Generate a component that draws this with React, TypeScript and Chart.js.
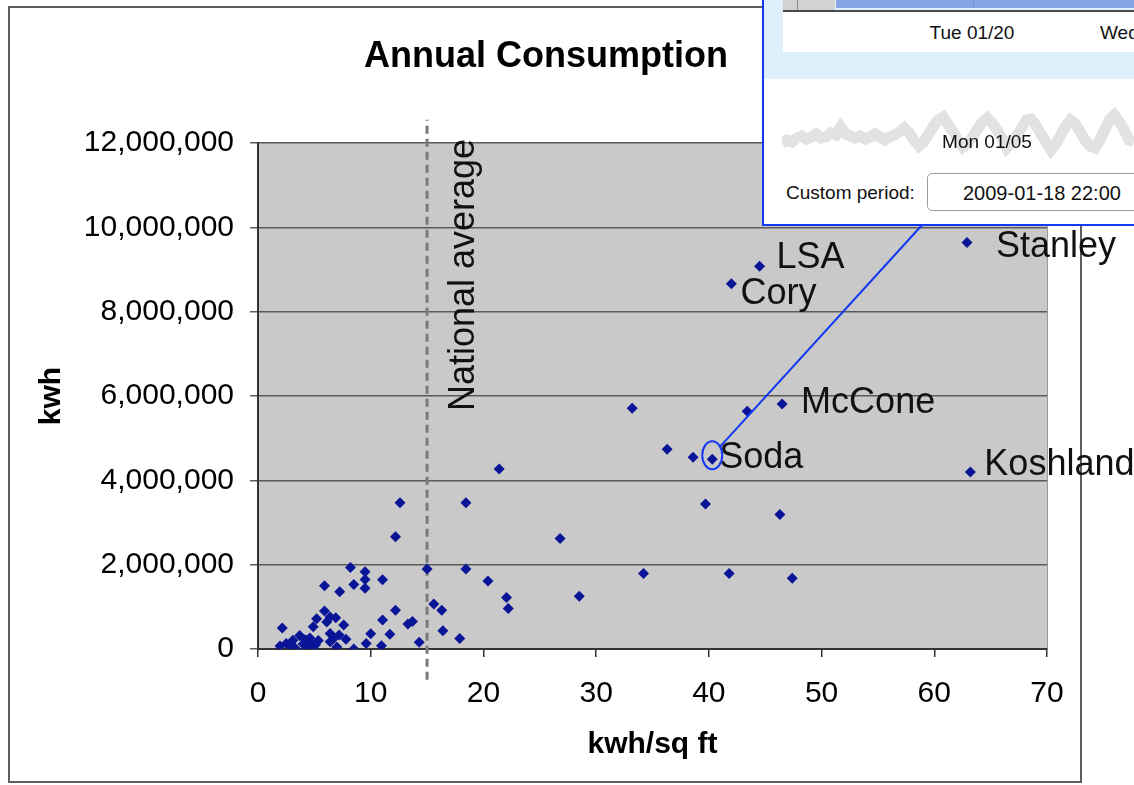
import { useEffect, useRef } from "react";
import { Chart, registerables } from "chart.js";
Chart.register(...registerables);

// ---------- data ----------
// first six points carry the named labels
const pointNames = ["Stanley", "LSA", "Cory", "McCone", "Soda", "Koshland"];

const kwhPerSqFt = [
  62.9, 44.5, 42.0, 46.5, 40.3, 63.2,
  43.4, 33.2, 36.3, 38.6, 21.4, 39.7, 46.3, 26.8, 34.2, 41.8, 47.4, 28.5,
  18.45, 12.6, 12.2, 18.45, 15.0, 20.4, 22.05, 22.2, 15.6, 16.3, 16.4, 17.9, 14.3,
  8.2, 9.5, 9.5, 9.5, 8.5, 11.05, 5.9, 7.25, 12.2, 11.05, 13.3, 13.7, 11.7, 10.0,
  10.95, 9.6, 8.5, 7.0, 7.6, 7.2, 7.8, 6.4, 6.7, 6.9, 6.4, 5.9, 5.2, 4.9, 2.15,
  3.7, 3.1, 4.2, 4.6, 5.35, 1.95, 2.5, 3.0, 3.3, 4.0, 4.4, 4.7, 4.9, 5.1, 4.3, 6.4, 6.1,
];

const kwhMillions = [
  9.64, 9.08, 8.66, 5.81, 4.50, 4.20,
  5.64, 5.71, 4.74, 4.55, 4.27, 3.44, 3.19, 2.62, 1.79, 1.79, 1.68, 1.25,
  3.47, 3.47, 2.66, 1.90, 1.90, 1.61, 1.22, 0.96, 1.07, 0.92, 0.43, 0.25, 0.16,
  1.93, 1.83, 1.65, 1.44, 1.53, 1.64, 1.50, 1.36, 0.92, 0.69, 0.59, 0.65, 0.35, 0.36,
  0.08, 0.13, 0.0, 0.05, 0.57, 0.33, 0.23, 0.37, 0.25, 0.74, 0.76, 0.90, 0.72, 0.53, 0.50,
  0.32, 0.21, 0.22, 0.26, 0.20, 0.07, 0.13, 0.04, 0.02, 0.12, 0.05, 0.13, 0.02, 0.10, 0.0, 0.17, 0.64,
];

const nationalAverage = 15;
const nationalLineSpan = [-0.73, 12.55]; // millions of kwh, the line runs past the axes
const yMax = 12000000;
const yStep = 2000000;
const xMax = 70;
const xStep = 10;

// inset screenshot sparkline (height above its baseline)
const sparkValues = [
  27, 30, 28, 32, 34, 31, 33, 36, 32, 33, 37, 35, 43, 36, 34, 32, 34, 31, 33, 36, 33, 30, 33, 35,
  38, 42, 37, 30, 24, 28, 36, 44, 50, 53, 45, 38, 30, 23, 27, 33, 41, 48, 52, 47, 40, 32, 22,
  27, 34, 42, 50, 51, 44, 36, 28, 20, 26, 35, 44, 50, 46, 38, 30, 24, 22, 30, 40, 50, 55, 48, 40, 30, 28,
];

// ---------- style / layout ----------
const FONT = "'Liberation Sans', Arial, Helvetica, sans-serif";
const MARK = "#0a1496";
const labelOffsets = [
  [29, 14], [17, 2], [9, 20], [19, 9], [7, 9], [14, 3],
];

export default function App() {
  const mainRef = useRef<HTMLCanvasElement>(null);
  const sparkRef = useRef<HTMLCanvasElement>(null);

  useEffect(() => {
    const points = kwhPerSqFt.map((x, i) => ({ x, y: kwhMillions[i] * 1e6 }));

    const decor = {
      id: "decor",
      beforeDraw(chart: any) {
        const { ctx, chartArea: a } = chart;
        ctx.save();
        ctx.fillStyle = "#ffffff";
        ctx.fillRect(0, 0, chart.width, chart.height);
        ctx.fillStyle = "#c9c9c9";
        ctx.fillRect(a.left, a.top, a.right - a.left, a.bottom - a.top);
        ctx.strokeStyle = "#9a9a9a";
        ctx.lineWidth = 1;
        ctx.beginPath();
        ctx.moveTo(a.right + 0.5, a.top);
        ctx.lineTo(a.right + 0.5, a.bottom);
        ctx.stroke();
        // chart frame
        ctx.strokeStyle = "#5e5e5e";
        ctx.lineWidth = 2;
        ctx.strokeRect(9, 7, 1072, 775);
        // title
        ctx.fillStyle = "#000";
        ctx.font = `bold 36px ${FONT}`;
        ctx.textAlign = "center";
        ctx.textBaseline = "alphabetic";
        ctx.fillText("Annual Consumption", 546, 67);
        ctx.restore();
      },
      afterDatasetsDraw(chart: any) {
        const { ctx } = chart;
        const xs = chart.scales.x;
        const ys = chart.scales.y;
        ctx.save();
        // point labels
        ctx.fillStyle = "#111";
        ctx.font = `36px ${FONT}`;
        ctx.textAlign = "left";
        ctx.textBaseline = "alphabetic";
        pointNames.forEach((name, i) => {
          const px = xs.getPixelForValue(points[i].x);
          const py = ys.getPixelForValue(points[i].y);
          ctx.fillText(name, px + labelOffsets[i][0], py + labelOffsets[i][1]);
        });
        // national average label
        const nx = xs.getPixelForValue(nationalAverage);
        ctx.save();
        ctx.translate(nx + 47, 275);
        ctx.rotate(-Math.PI / 2);
        ctx.textAlign = "center";
        ctx.fillText("National average", 0, 0);
        ctx.restore();
        // callout around Soda
        const si = pointNames.indexOf("Soda");
        const sx = xs.getPixelForValue(points[si].x);
        const sy = ys.getPixelForValue(points[si].y) - 4;
        ctx.strokeStyle = "#1238f2";
        ctx.lineWidth = 2;
        ctx.beginPath();
        ctx.ellipse(sx, sy, 10, 14, 0, 0, Math.PI * 2);
        ctx.stroke();
        const tx = 923, ty = 224;
        const dx = tx - sx, dy = ty - sy;
        const t = 1 / Math.sqrt((dx / 10) ** 2 + (dy / 14) ** 2);
        ctx.beginPath();
        ctx.moveTo(sx + dx * t, sy + dy * t);
        ctx.lineTo(tx, ty);
        ctx.stroke();
        ctx.restore();
      },
    };

    const main = new Chart(mainRef.current!, {
      type: "scatter",
      data: {
        datasets: [
          {
            data: points,
            pointStyle: "rectRot",
            pointRadius: 5.5,
            pointBackgroundColor: MARK,
            pointBorderColor: MARK,
            pointBorderWidth: 0,
            showLine: false,
          },
          {
            data: nationalLineSpan.map((v) => ({ x: nationalAverage, y: v * 1e6 })),
            showLine: true,
            borderColor: "#7a7a7a",
            borderWidth: 3,
            borderDash: [8, 5],
            pointRadius: 0,
            clip: false as any,
          },
        ],
      },
      options: {
        responsive: false,
        animation: false,
        devicePixelRatio: 1,
        layout: { padding: { left: 0, right: 87, top: 143, bottom: 16 } },
        plugins: { legend: { display: false }, tooltip: { enabled: false } },
        scales: {
          x: {
            type: "linear",
            min: 0,
            max: xMax,
            afterFit: (s: any) => { s.height = 120; },
            ticks: {
              stepSize: xStep,
              autoSkip: false,
              maxRotation: 0,
              padding: 19,
              color: "#000",
              font: { family: FONT, size: 30 },
            },
            grid: { drawOnChartArea: false, drawTicks: true, tickLength: 8, color: "#333", lineWidth: 1.5 },
            border: { display: true, color: "#333", width: 2 },
            title: {
              display: true,
              text: "kwh/sq ft",
              color: "#000",
              font: { family: FONT, size: 30, weight: "bold" },
              padding: { top: 0, bottom: 6 },
            },
          },
          y: {
            type: "linear",
            min: 0,
            max: yMax,
            afterFit: (s: any) => { s.width = 258; },
            ticks: {
              stepSize: yStep,
              autoSkip: false,
              padding: 16,
              color: "#000",
              font: { family: FONT, size: 30 },
              callback: (v: any) => Number(v).toLocaleString("en-US"),
            },
            grid: { color: "#5a5a5a", lineWidth: 1.5, tickLength: 8 },
            border: { display: true, color: "#333", width: 2 },
            title: {
              display: true,
              text: "kwh",
              color: "#000",
              font: { family: FONT, size: 30, weight: "bold" },
              padding: { top: 34, bottom: 0 },
            },
          },
        },
      },
      plugins: [decor],
    } as any);

    const spark = new Chart(sparkRef.current!, {
      type: "line",
      data: {
        labels: sparkValues.map((_, i) => String(i)),
        datasets: [
          { data: sparkValues, borderColor: "#e2e2e2", borderWidth: 11, pointRadius: 0, tension: 0 },
          { data: sparkValues, borderColor: "#d2d2d2", borderWidth: 2, pointRadius: 0, tension: 0 },
        ],
      },
      options: {
        responsive: false,
        animation: false,
        devicePixelRatio: 1,
        layout: { padding: 0 },
        plugins: { legend: { display: false }, tooltip: { enabled: false } },
        scales: {
          x: { display: false, offset: false },
          y: { display: false, min: 0, max: 75 },
        },
      },
    } as any);

    return () => {
      main.destroy();
      spark.destroy();
    };
  }, []);

  const txt = (extra: any) => ({
    position: "absolute" as const,
    fontFamily: FONT,
    fontSize: 19,
    color: "#111",
    whiteSpace: "nowrap" as const,
    lineHeight: "20px",
    ...extra,
  });

  return (
    <div style={{ position: "fixed", left: 0, top: 0, width: 1134, height: 785, overflow: "hidden", background: "#fff" }}>
      <canvas ref={mainRef} width={1134} height={785} style={{ position: "absolute", left: 0, top: 0, width: 1134, height: 785 }} />
      {/* inset screenshot window */}
      <div style={{ position: "absolute", left: 763, top: 0, width: 371, height: 226, background: "#fff" }} />
      <div style={{ position: "absolute", left: 763, top: 0, width: 371, height: 79, background: "#def0fb" }} />
      <div style={{ position: "absolute", left: 783, top: 11, width: 351, height: 41, background: "#fff" }} />
      <div style={{ position: "absolute", left: 783, top: 0, width: 52, height: 10, background: "#d2d2d2" }} />
      <div style={{ position: "absolute", left: 797, top: 0, width: 1, height: 10, background: "#888" }} />
      <div style={{ position: "absolute", left: 836, top: 0, width: 298, height: 8, background: "#86a3e3" }} />
      <div style={{ position: "absolute", left: 973, top: 0, width: 1, height: 8, background: "#6f8fd6" }} />
      <div style={{ position: "absolute", left: 783, top: 10, width: 351, height: 2, background: "#4a4a4a" }} />
      <div style={txt({ left: 922, top: 23, width: 100, textAlign: "center" })}>Tue 01/20</div>
      <div style={txt({ left: 1100, top: 23 })}>Wed 01/21</div>
      <canvas ref={sparkRef} width={352} height={75} style={{ position: "absolute", left: 782, top: 95, width: 352, height: 75 }} />
      <div style={txt({ left: 937, top: 132, width: 100, textAlign: "center" })}>Mon 01/05</div>
      <div style={txt({ left: 786, top: 183 })}>Custom period:</div>
      <div
        style={{
          position: "absolute",
          left: 927,
          top: 173,
          width: 240,
          height: 38,
          border: "1px solid #9c9c9c",
          borderRadius: 5,
          background: "#fff",
          boxSizing: "border-box",
        }}
      />
      <div style={txt({ left: 963, top: 183, fontSize: 20 })}>2009-01-18 22:00</div>
      <div style={{ position: "absolute", left: 762, top: 0, width: 2, height: 226, background: "#1238f2" }} />
      <div style={{ position: "absolute", left: 762, top: 224, width: 372, height: 2, background: "#1238f2" }} />
    </div>
  );
}
